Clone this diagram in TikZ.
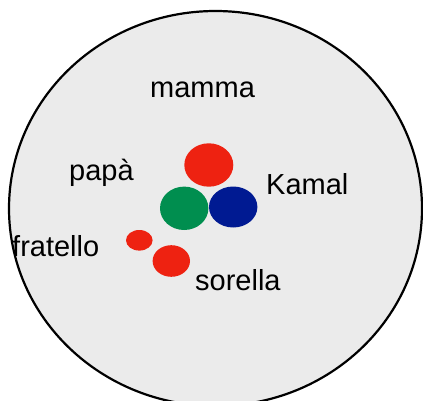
\documentclass[tikz,border=0pt]{standalone}
\usepackage{fontspec}
\setmainfont{Liberation Sans}
\definecolor{ringfill}{RGB}{235,235,235}
\definecolor{famred}{RGB}{238,34,17}
\definecolor{famgreen}{RGB}{0,142,79}
\definecolor{famblue}{RGB}{0,26,146}
\tikzset{
  label text/.style={anchor=base west, inner sep=0pt, font=\fontsize{29}{34}\selectfont, text=black},
}
\begin{document}
\begin{tikzpicture}[x=1pt, y=-1pt]
  \clip (0,0) rectangle (423,401);
  % the outer ring
  \filldraw[fill=ringfill, draw=black, line width=2.2pt] (215.5,208.5) ellipse [x radius=206.5, y radius=197.5];
  % family members
  \fill[famred]   (208.8,165)   ellipse [x radius=24.5, y radius=21.7];
  \fill[famgreen] (184.2,208.3) ellipse [x radius=24.2, y radius=21.7];
  \fill[famblue]  (233.2,207)   ellipse [x radius=24.2, y radius=20.5];
  \fill[famred]   (139.3,240.3) ellipse [x radius=13.3, y radius=10.3];
  \fill[famred]   (171.3,261)   ellipse [x radius=18.7, y radius=15.8];
  % names
  \node[label text] (mamma)    at (150,98)  {mamma};
  \node[label text] (papa)     at (69,180)  {papà};
  \node[label text] (kamal)    at (266,194) {Kamal};
  \node[label text] (fratello) at (12,256)  {fratello};
  \node[label text] (sorella)  at (195,290) {sorella};
\end{tikzpicture}
\end{document}
